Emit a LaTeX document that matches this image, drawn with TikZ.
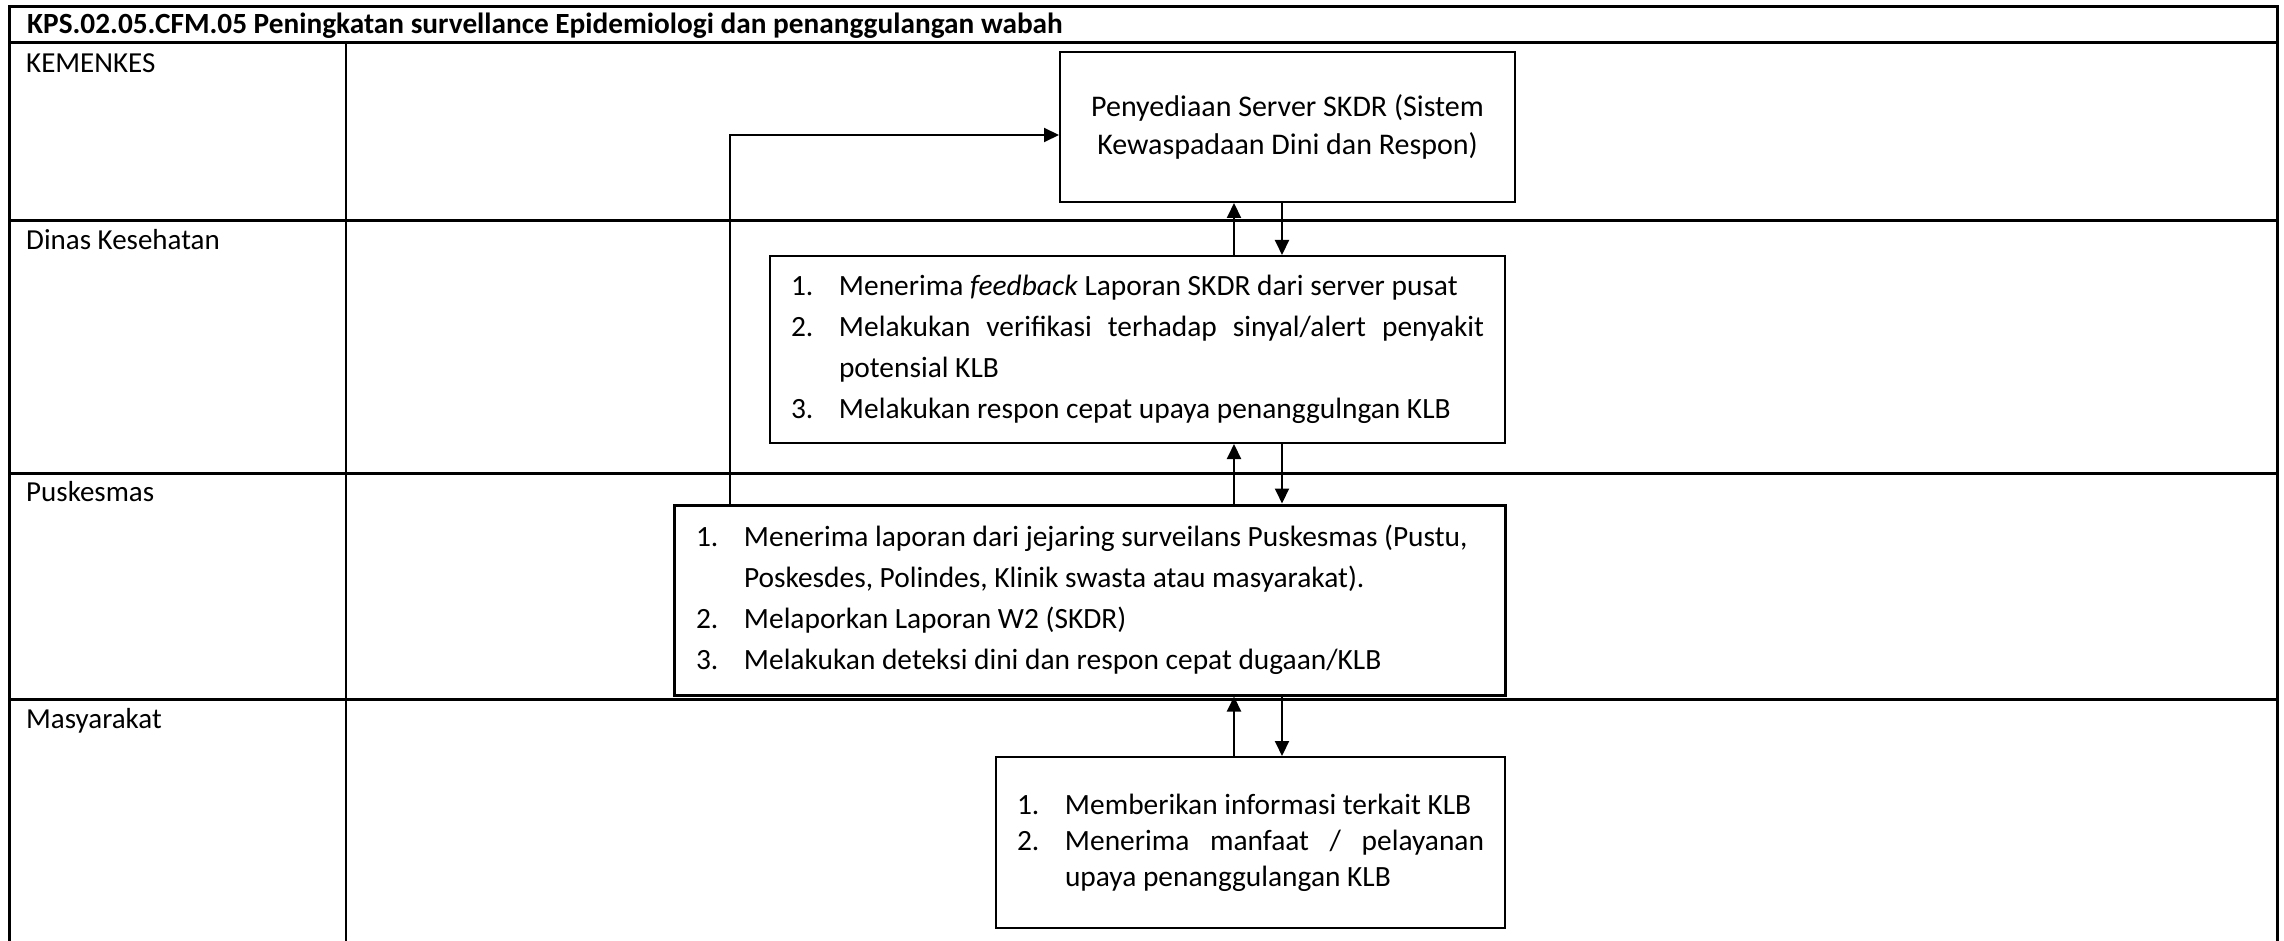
\documentclass[tikz,border=0pt]{standalone}
\usepackage{fontspec}
\setmainfont{Carlito}
\usetikzlibrary{arrows.meta}
\newcommand{\itm}[2]{\hangindent=48pt\hangafter=1\noindent\makebox[48pt][l]{#1}#2\par}
\begin{document}
\begin{tikzpicture}[x=1pt,y=-1pt,
  frame/.style={line width=3pt},
  divider/.style={line width=2.3pt},
  lane/.style={anchor=base west, inner sep=0pt, font=\fontsize{29}{35}\selectfont},
  box/.style={draw, line width=2pt, rectangle, inner sep=0pt},
  conn/.style={line width=2pt, -{Triangle[length=15pt,width=14pt]}}]
\useasboundingbox (0,0) rectangle (2284,941);
% table frame
\draw[frame] (9,941) -- (9,7) -- (2277,7) -- (2277,941);
\draw[frame] (9,43) -- (2277,43);
\draw[frame] (9,221) -- (2277,221);
\draw[frame] (9,473) -- (2277,473);
\draw[frame] (9,699) -- (2277,699);
\draw[divider] (346,43) -- (346,941);
% title and lane labels
\node[anchor=base west, inner sep=0pt, font=\bfseries\fontsize{29.3}{35}\selectfont] (title) at (27,34) {KPS.02.05.CFM.05 Peningkatan survellance Epidemiologi dan penanggulangan wabah};
\node[lane] (l1) at (26,73) {KEMENKES};
\node[lane] (l2) at (26,250) {Dinas Kesehatan};
\node[lane] (l3) at (26,501) {Puskesmas};
\node[lane] (l4) at (26,728) {Masyarakat};
% boxes
\node[box, minimum width=455pt, minimum height=150pt] (srv) at (1287.5,127)
  {\parbox{440pt}{\centering\fontsize{30}{38}\selectfont Penyediaan Server SKDR (Sistem\\Kewaspadaan Dini dan Respon)}};
\node[box, minimum width=735pt, minimum height=187pt] (dinas) at (1137.5,349.5)
  {\parbox{693pt}{\fontsize{29.4}{41}\selectfont\tolerance=9999
  \itm{1.}{Menerima \textit{feedback} Laporan SKDR dari server pusat}
  \itm{2.}{Melakukan verifikasi terhadap sinyal/alert penyakit\linebreak potensial KLB}
  \itm{3.}{Melakukan respon cepat upaya penanggulngan KLB}}};
\node[box, line width=3pt, minimum width=831pt, minimum height=190pt] (pusk) at (1089.5,600)
  {\parbox{787pt}{\fontsize{29.4}{41}\selectfont\tolerance=9999
  \itm{1.}{Menerima laporan dari jejaring surveilans Puskesmas (Pustu,\newline Poskesdes, Polindes, Klinik swasta atau masyarakat).}
  \itm{2.}{Melaporkan Laporan W2 (SKDR)}
  \itm{3.}{Melakukan deteksi dini dan respon cepat dugaan/KLB}}};
\node[box, minimum width=509pt, minimum height=171pt] (masy) at (1250.5,842.5)
  {\parbox{467pt}{\fontsize{29.4}{36}\selectfont\tolerance=9999
  \itm{1.}{Memberikan informasi terkait KLB}
  \itm{2.}{Menerima manfaat / pelayanan\linebreak upaya penanggulangan KLB}}};
% connectors
\coordinate (bend) at (730,135);
\coordinate (cu) at (1234,0);
\coordinate (cd) at (1282,0);
\draw[conn] (bend |- pusk.north) -- (bend) -- (bend -| srv.west);
\draw[conn] (cu |- dinas.north) -- (cu |- srv.south);
\draw[conn] (cd |- srv.south) -- (cd |- dinas.north);
\draw[conn] (cu |- pusk.north) -- (cu |- dinas.south);
\draw[conn] (cd |- dinas.south) -- (cd |- pusk.north);
\draw[conn] (cu |- masy.north) -- (cu |- pusk.south);
\draw[conn] (cd |- pusk.south) -- (cd |- masy.north);
\end{tikzpicture}
\end{document}
